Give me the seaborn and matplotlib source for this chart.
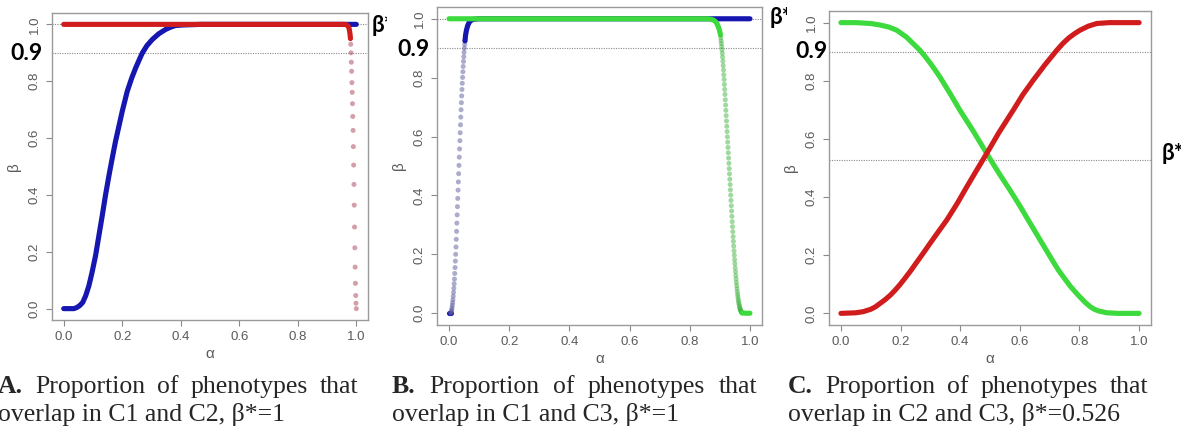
import matplotlib
matplotlib.use("Agg")
import matplotlib.pyplot as plt
import seaborn as sns
from matplotlib.transforms import Bbox, TransformedBbox

# ---------------- data ----------------
# Panel A: C1 vs C2
blue_a_alpha = [0.0, 0.02, 0.035, 0.045, 0.055, 0.065, 0.075, 0.086, 0.097, 0.109,
                0.12, 0.132, 0.143, 0.155, 0.166, 0.177, 0.189, 0.2, 0.217, 0.232,
                0.246, 0.258, 0.269, 0.285, 0.303, 0.325, 0.348, 0.365, 0.382, 0.41,
                0.44, 0.47, 0.6, 0.8, 1.0]
blue_a_beta = [0.0, 0.0, 0.0, 0.004, 0.011, 0.022, 0.045, 0.08, 0.128, 0.187,
               0.255, 0.329, 0.40, 0.47, 0.53, 0.588, 0.643, 0.694, 0.764, 0.81,
               0.847, 0.875, 0.90, 0.926, 0.947, 0.967, 0.982, 0.99, 0.996, 0.998,
               0.999, 1.0, 1.0, 1.0, 1.0]
red_a_alpha = [0.0, 0.96, 0.968, 0.972, 0.975, 0.977, 0.979, 0.980]
red_a_beta = [1.0, 1.0, 0.998, 0.994, 0.987, 0.977, 0.962, 0.95]
red_a_tail_alpha = [0.981, 0.982, 0.983, 0.984, 0.985, 0.986, 0.987, 0.988, 0.989, 0.990,
                    0.991, 0.992, 0.993, 0.994, 0.995, 0.996, 0.997, 0.998, 0.999, 1.000]
red_a_tail_beta = [0.93, 0.90, 0.867, 0.835, 0.795, 0.761, 0.721, 0.676, 0.627, 0.57,
                   0.505, 0.437, 0.364, 0.287, 0.214, 0.146, 0.089, 0.046, 0.019, 0.0]

# Panel B: C1 vs C3
blue_b_low_alpha = [0.0, 0.006]
blue_b_low_beta = [0.0, 0.0]
blue_b_tail_alpha = [0.006, 0.007, 0.008, 0.009, 0.010, 0.011, 0.012, 0.013, 0.014, 0.015,
                     0.016, 0.017, 0.018, 0.019, 0.020, 0.021, 0.022, 0.023, 0.024, 0.025,
                     0.026, 0.027, 0.028, 0.029, 0.030, 0.031, 0.032, 0.033, 0.034, 0.035,
                     0.036, 0.037, 0.038, 0.039, 0.040, 0.041, 0.042, 0.043, 0.044, 0.045,
                     0.046, 0.047, 0.048, 0.049, 0.050, 0.051, 0.052, 0.053]
blue_b_tail_beta = [0.000, 0.003, 0.007, 0.012, 0.019, 0.027, 0.036, 0.046, 0.058, 0.071,
                    0.085, 0.100, 0.116, 0.135, 0.155, 0.177, 0.200, 0.225, 0.251, 0.278,
                    0.306, 0.334, 0.362, 0.390, 0.418, 0.446, 0.474, 0.502, 0.530, 0.558,
                    0.586, 0.613, 0.640, 0.666, 0.691, 0.715, 0.738, 0.760, 0.781, 0.801,
                    0.820, 0.838, 0.855, 0.871, 0.886, 0.900, 0.913, 0.925]
blue_b_alpha = [0.053, 0.055, 0.058, 0.062, 0.067, 0.072, 0.08, 0.09, 0.1, 1.0]
blue_b_beta = [0.925, 0.945, 0.962, 0.977, 0.988, 0.994, 0.998, 0.999, 1.0, 1.0]
green_b_alpha = [0.0, 0.86, 0.872, 0.88, 0.886, 0.891, 0.895, 0.899, 0.902]
green_b_beta = [1.0, 1.0, 0.998, 0.995, 0.99, 0.982, 0.972, 0.96, 0.945]
green_b_tail_alpha = [0.903, 0.904, 0.905, 0.906, 0.907, 0.908, 0.909, 0.910, 0.911, 0.912,
                      0.913, 0.914, 0.915, 0.916, 0.917, 0.918, 0.919, 0.920, 0.921, 0.922,
                      0.923, 0.924, 0.925, 0.926, 0.927, 0.928, 0.929, 0.930, 0.931, 0.932,
                      0.933, 0.934, 0.935, 0.936, 0.937, 0.938, 0.939, 0.940, 0.941, 0.942,
                      0.943, 0.944, 0.945, 0.946, 0.947, 0.948, 0.949, 0.950, 0.951, 0.952,
                      0.953, 0.954, 0.955, 0.956, 0.957, 0.958, 0.959, 0.960, 0.961, 0.962,
                      0.963, 0.964, 0.965, 0.966, 0.967, 0.968, 0.969, 0.970, 0.971, 0.972,
                      0.973, 0.974]
green_b_tail_beta = [0.935, 0.925, 0.916, 0.906, 0.895, 0.883, 0.870, 0.856, 0.841, 0.826,
                     0.810, 0.794, 0.777, 0.760, 0.743, 0.725, 0.707, 0.689, 0.671, 0.653,
                     0.635, 0.617, 0.599, 0.581, 0.563, 0.545, 0.527, 0.509, 0.491, 0.473,
                     0.455, 0.437, 0.419, 0.401, 0.383, 0.365, 0.347, 0.329, 0.311, 0.294,
                     0.277, 0.260, 0.244, 0.228, 0.212, 0.197, 0.182, 0.168, 0.154, 0.141,
                     0.128, 0.116, 0.104, 0.093, 0.083, 0.073, 0.064, 0.056, 0.048, 0.041,
                     0.035, 0.029, 0.024, 0.019, 0.015, 0.012, 0.009, 0.007, 0.005, 0.003,
                     0.002, 0.001]
green_b_low_alpha = [0.974, 0.985, 1.0]
green_b_low_beta = [0.001, 0.0, 0.0]

# Panel C: C2 vs C3
green_c_alpha = [0.0, 0.05, 0.1, 0.13, 0.16, 0.187, 0.22, 0.24, 0.265, 0.282,
                 0.30, 0.316, 0.332, 0.365, 0.399, 0.445, 0.489, 0.53, 0.567, 0.60,
                 0.623, 0.655, 0.69, 0.71, 0.73, 0.75, 0.768, 0.785, 0.80, 0.818,
                 0.836, 0.85, 0.865, 0.892, 0.93, 1.0]
green_c_beta = [1.0, 1.0, 0.997, 0.992, 0.985, 0.974, 0.95, 0.93, 0.905, 0.884,
                0.86, 0.837, 0.813, 0.758, 0.699, 0.625, 0.55, 0.482, 0.424, 0.37,
                0.33, 0.275, 0.215, 0.181, 0.148, 0.12, 0.095, 0.075, 0.058, 0.039,
                0.023, 0.014, 0.008, 0.002, 0.0, 0.0]
red_c_alpha = [0.0, 0.05, 0.075, 0.1, 0.115, 0.131, 0.148, 0.165, 0.182, 0.198,
               0.215, 0.235, 0.255, 0.276, 0.295, 0.315, 0.355, 0.39, 0.422, 0.455,
               0.489, 0.53, 0.578, 0.61, 0.645, 0.685, 0.724, 0.745, 0.765, 0.785,
               0.802, 0.83, 0.858, 0.9, 0.95, 1.0]
red_c_beta = [0.0, 0.002, 0.006, 0.014, 0.022, 0.034, 0.047, 0.062, 0.08, 0.099,
              0.121, 0.148, 0.177, 0.207, 0.235, 0.264, 0.321, 0.378, 0.435, 0.492,
              0.55, 0.622, 0.699, 0.752, 0.802, 0.856, 0.905, 0.929, 0.948, 0.963,
              0.974, 0.988, 0.997, 1.0, 1.0, 1.0]

threshold = 0.9
beta_star = [1.0, 1.0, 0.526]
xticks = [0.0, 0.2, 0.4, 0.6, 0.8, 1.0]
tick_labels = ["0.0", "0.2", "0.4", "0.6", "0.8", "1.0"]
captions = [
    ("A.", ["Proportion", "of", "phenotypes", "that"], "overlap in C1 and C2, \u03b2*=1"),
    ("B.", ["Proportion", "of", "phenotypes", "that"], "overlap in C1 and C3, \u03b2*=1"),
    ("C.", ["Proportion", "of", "phenotypes", "that"], "overlap in C2 and C3, \u03b2*=0.526"),
]

# ---------------- style ----------------
sns.set_theme(style="white")
plt.rcParams["font.family"] = ["Liberation Sans", "DejaVu Sans"]

BLUE = "#1616b0"
RED = "#d01c1c"
GREEN = "#3cda3c"
BLUE_DOT = "#5a5a9c"
RED_DOT = "#a84052"
GREEN_DOT = "#40b440"
LW = 3.7

W, H = 1189, 434
fig = plt.figure(figsize=(W / 100, H / 100), dpi=100)
fig.patch.set_facecolor("white")

boxes = [(52, 13, 368, 320), (437, 7, 762, 325), (829, 11, 1151, 325)]
axes = []
for (l, t, r, b) in boxes:
    ax = fig.add_axes([l / W, (H - b) / H, (r - l) / W, (b - t) / H])
    axes.append(ax)


def dense(ax, x, y, color):
    sns.lineplot(x=x, y=y, ax=ax, color=color, linewidth=LW, sort=False,
                 estimator=None, solid_capstyle="round", solid_joinstyle="round",
                 zorder=3)


def dots(ax, x, y, color):
    sns.scatterplot(x=x, y=y, ax=ax, color=color, s=13, alpha=0.5,
                    edgecolor="none", linewidth=0, zorder=3)


for i, ax in enumerate(axes):
    ax.axhline(threshold, color="#8a8a8a", lw=0.8, ls=(0, (1, 1.2)), zorder=1)
    ax.axhline(beta_star[i], color="#8a8a8a", lw=0.8, ls=(0, (1, 1.2)), zorder=1)

# Panel A
dense(axes[0], blue_a_alpha, blue_a_beta, BLUE)
dense(axes[0], red_a_alpha, red_a_beta, RED)
dots(axes[0], red_a_tail_alpha, red_a_tail_beta, RED_DOT)

# Panel B
dense(axes[1], blue_b_low_alpha, blue_b_low_beta, BLUE)
dots(axes[1], blue_b_tail_alpha, blue_b_tail_beta, BLUE_DOT)
dense(axes[1], blue_b_alpha, blue_b_beta, BLUE)
dense(axes[1], green_b_alpha, green_b_beta, GREEN)
dots(axes[1], green_b_tail_alpha, green_b_tail_beta, GREEN_DOT)
dense(axes[1], green_b_low_alpha, green_b_low_beta, GREEN)

# Panel C
dense(axes[2], green_c_alpha, green_c_beta, GREEN)
dense(axes[2], red_c_alpha, red_c_beta, RED)

for ax in axes:
    ax.set_xlim(-0.04, 1.04)
    ax.set_ylim(-0.04, 1.04)
    ax.set_xticks(xticks)
    ax.set_xticklabels(tick_labels)
    ax.set_yticks(xticks)
    ax.set_yticklabels(tick_labels, rotation=90, va="center")
    ax.tick_params(axis="both", which="major", length=4.5, width=0.8, color="#8a8a8a",
                   labelsize=9.5, labelcolor="#5a5a5a", pad=3.5, direction="out",
                   bottom=True, left=True)
    for sp in ax.spines.values():
        sp.set_visible(True)
        sp.set_color("#9a9a9a")
        sp.set_linewidth(1.0)
    ax.set_xlabel("\u03b1", fontsize=11, color="#5a5a5a", labelpad=3)
    ax.set_ylabel("\u03b2", fontsize=11, color="#5a5a5a", labelpad=6)
    ax.set_facecolor("white")

# bold annotations: threshold and beta* marks
bold_font = ["Lato", "DejaVu Sans"]
nine_pos = [(10, 53), (397, 49), (795, 52)]
for (x, y) in nine_pos:
    fig.text(x / W, (H - y) / H, "0.9", fontsize=16.5, fontweight="bold",
             family=bold_font, ha="left", va="center", color="black")

star_pos = [(372, 25, 387), (770, 18, 787), (1162, 154, 1181)]
for (x, y, xc) in star_pos:
    t = fig.text(x / W, (H - y) / H, "\u03b2*", fontsize=16, fontweight="bold",
                 family=bold_font, ha="left", va="center", color="black")
    t.set_clip_box(TransformedBbox(Bbox.from_extents(0, 0, xc / W, 1), fig.transFigure))
    t.set_clip_on(True)

# captions (first line justified)
serif = ["Liberation Serif", "DejaVu Serif"]
cap_fs = 18.5
cap_spans = [(-2, 358), (392, 757), (788, 1148)]
base1, base2 = 393, 421
renderer = fig.canvas.get_renderer()
for (head, words, line2), (x0, x1) in zip(captions, cap_spans):
    items = [fig.text(0, (H - base1) / H, head, fontsize=cap_fs, family=serif,
                      fontweight="bold", va="baseline", ha="left")]
    for w in words:
        items.append(fig.text(0, (H - base1) / H, w, fontsize=cap_fs, family=serif,
                              va="baseline", ha="left"))
    widths = [it.get_window_extent(renderer).width for it in items]
    gap = (x1 - x0 - sum(widths)) / (len(items) - 1)
    xpos = x0
    for it, wd in zip(items, widths):
        it.set_x(xpos / W)
        xpos += wd + gap
    fig.text(x0 / W, (H - base2) / H, line2, fontsize=cap_fs, family=serif,
             va="baseline", ha="left")

fig.savefig("out.png", dpi=100, facecolor="white")
